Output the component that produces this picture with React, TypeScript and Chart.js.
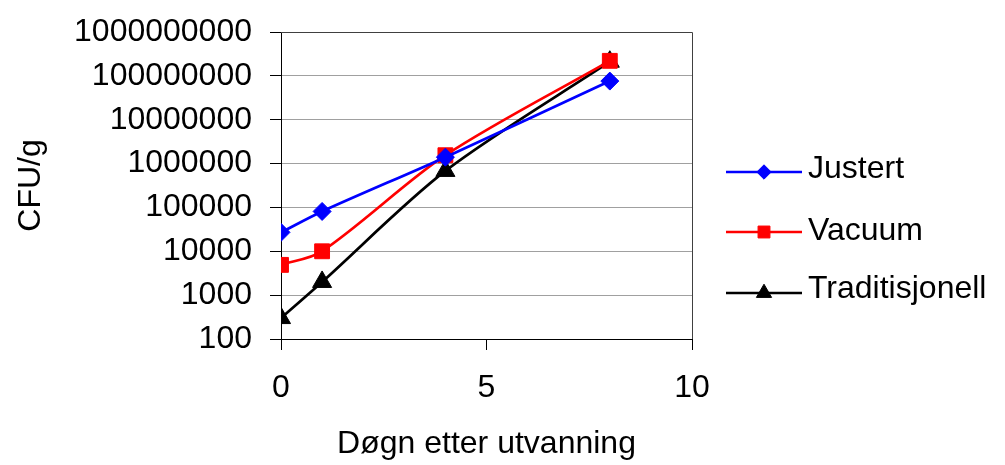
import React, { useEffect, useRef } from "react";
import { Chart, registerables } from "chart.js";
import { drawPoint } from "chart.js/helpers";

Chart.register(...registerables);

const days = [0, 1, 4, 8];
const justert = [27000, 81000, 1400000, 76000000];
const vacuum = [4900, 10000, 1550000, 220000000];
const traditisjonell = [300, 2000, 680000, 210000000];
const seriesNames = ["Justert", "Vacuum", "Traditisjonell"];
const yTickValues = [100, 1000, 10000, 100000, 1000000, 10000000, 100000000, 1000000000];
const xTitle = "Døgn etter utvanning";
const yTitle = "CFU/g";

const FONT = "'Liberation Sans', Arial, sans-serif";

const frame = {
  id: "frame",
  beforeDatasetsDraw(chart: any) {
    const { ctx, chartArea } = chart;
    ctx.save();
    ctx.strokeStyle = "#404040";
    ctx.lineWidth = 1;
    ctx.beginPath();
    ctx.moveTo(chartArea.left, chartArea.top + 0.5);
    ctx.lineTo(chartArea.right + 0.5, chartArea.top + 0.5);
    ctx.lineTo(chartArea.right + 0.5, chartArea.bottom);
    ctx.stroke();
    ctx.restore();
  },
};

const sideLegend = {
  id: "sideLegend",
  afterDraw(chart: any) {
    const { ctx } = chart;
    const rowsY = [172, 232, 293];
    const textY = [169, 231, 289];
    ctx.save();
    chart.data.datasets.forEach((ds: any, i: number) => {
      const y = rowsY[i];
      ctx.strokeStyle = ds.borderColor;
      ctx.lineWidth = 2.5;
      ctx.beginPath();
      ctx.moveTo(726, y);
      ctx.lineTo(802, y);
      ctx.stroke();
      ctx.fillStyle = ds.pointBackgroundColor;
      ctx.strokeStyle = ds.pointBorderColor;
      ctx.lineWidth = 1;
      drawPoint(ctx, { pointStyle: ds.pointStyle, rotation: 0, radius: ds.pointRadius * 0.8, borderWidth: 1 }, 764, y);
      ctx.fillStyle = "#000";
      ctx.font = `32px ${FONT}`;
      ctx.textAlign = "left";
      ctx.textBaseline = "middle";
      ctx.fillText(ds.label, 808, textY[i]);
    });
    ctx.restore();
  },
};

function toPoints(vals: number[]) {
  return vals.map((v, i) => ({ x: days[i], y: v }));
}

export default function App() {
  const ref = useRef<HTMLCanvasElement | null>(null);
  useEffect(() => {
    if (!ref.current) return;
    Chart.defaults.font.family = FONT;
    const mk = (label: string, vals: number[], color: string, style: string, r: number) => ({
      label,
      data: toPoints(vals),
      borderColor: color,
      backgroundColor: color,
      pointBackgroundColor: color,
      pointBorderColor: color,
      pointStyle: style,
      pointRadius: r,
      pointBorderWidth: 1,
      borderWidth: 2.7,
      tension: 0.3,
      fill: false,
    });
    const chart = new Chart(ref.current, {
      type: "line",
      data: {
        datasets: [
          mk(seriesNames[0], justert, "#0000FF", "rectRot", 9),
          mk(seriesNames[1], vacuum, "#FF0000", "rect", 10.5),
          mk(seriesNames[2], traditisjonell, "#000000", "triangle", 11),
        ],
      },
      options: {
        responsive: false,
        animation: false,
        layout: { padding: { top: 32, right: 313, left: 0, bottom: 0 } },
        plugins: { legend: { display: false }, tooltip: { enabled: false } },
        scales: {
          x: {
            type: "linear",
            min: 0,
            max: 10,
            afterFit: (s: any) => { s.height = 126; s.paddingLeft = 0; s.paddingRight = 0; },
            ticks: { stepSize: 5, color: "#000", font: { size: 32 }, padding: 19, maxRotation: 0 },
            grid: { drawOnChartArea: false, tickLength: 11, color: "#000", tickColor: "#000" },
            border: { color: "#000", width: 1 },
            title: { display: true, text: xTitle, color: "#000", font: { size: 32 }, padding: { top: 0, bottom: 2 } },
          },
          y: {
            type: "logarithmic",
            min: 100,
            max: 1000000000,
            afterFit: (s: any) => { s.width = 281; s.paddingTop = 0; s.paddingBottom = 0; },
            afterBuildTicks: (s: any) => { s.ticks = yTickValues.map((v) => ({ value: v })); },
            ticks: { color: "#000", font: { size: 32 }, padding: 18, callback: (v: any) => String(v) },
            grid: { color: "#a0a0a0", tickColor: "#000", tickLength: 11 },
            border: { color: "#000", width: 1 },
            title: { display: true, text: yTitle, color: "#000", font: { size: 32 }, padding: { top: 12, bottom: 0 } },
          },
        },
      } as any,
      plugins: [frame, sideLegend],
    });
    return () => chart.destroy();
  }, []);
  return (
    <div style={{ position: "absolute", left: 0, top: 0, width: 1005, height: 465, background: "#fff" }}>
      <canvas ref={ref} width={1005} height={465} style={{ display: "block" }} />
    </div>
  );
}
